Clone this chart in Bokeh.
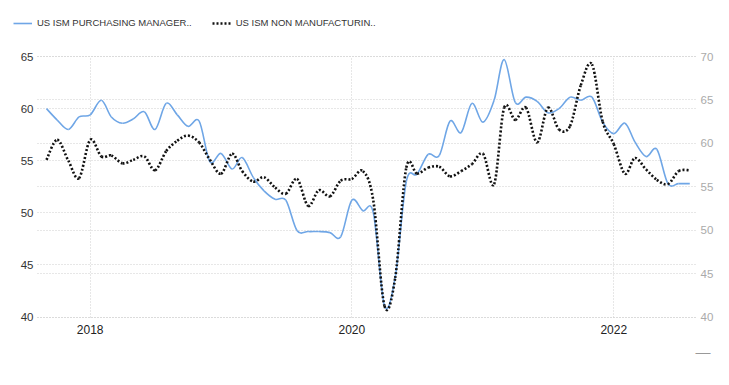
import numpy as np
import pandas as pd
from bokeh.plotting import figure
from bokeh.models import (Range1d, LinearAxis, FixedTicker, Grid, Legend, LegendItem,
                          Label, DatetimeTickFormatter, ColumnDataSource)
from bokeh.embed import file_html
from bokeh.resources import INLINE

# ---- data (monthly, Sep 2017 - Aug 2022) ----
months = pd.date_range("2017-09-01", "2022-08-01", freq="MS")

pmi_manufacturing = [
    60.0, 58.9, 58.0, 59.2,                                                  # 2017 Sep-Dec
    59.4, 60.8, 59.2, 58.6, 59.0, 59.7, 58.0, 60.5, 59.4, 58.3, 58.8, 54.9,  # 2018
    55.7, 54.2, 55.3, 53.4, 52.1, 51.3, 51.2, 48.3, 48.2, 48.2, 48.1, 47.7,  # 2019
    51.2, 50.2, 50.0, 41.1, 43.8, 53.0, 53.7, 55.6, 55.5, 58.8, 57.7, 60.5,  # 2020
    58.7, 60.8, 64.7, 60.6, 61.1, 60.7, 59.6, 60.0, 61.1, 60.8, 61.1, 58.7,  # 2021
    57.6, 58.6, 56.8, 55.4, 56.1, 52.8, 52.8, 52.8,                          # 2022 Jan-Aug
]
pmi_non_manufacturing = [
    58.1, 60.4, 58.0, 56.0,
    60.4, 58.5, 58.6, 57.7, 58.1, 58.5, 56.9, 59.1, 60.3, 60.9, 60.1, 58.1,
    56.5, 58.8, 56.8, 55.6, 56.1, 54.9, 54.2, 55.9, 52.8, 54.6, 53.9, 55.7,
    55.9, 56.8, 53.4, 41.3, 44.5, 57.2, 56.5, 57.2, 57.3, 56.2, 56.8, 57.6,
    58.8, 55.3, 64.1, 62.7, 64.1, 60.1, 64.1, 61.6, 62.0, 66.7, 69.1, 62.5,
    59.9, 56.5, 58.3, 57.0, 55.8, 55.3, 56.8, 56.9,
]
series_names = ["US ISM PURCHASING MANAGER..", "US ISM NON MANUFACTURIN.."]
left_ticks = [40, 45, 50, 55, 60, 65]
right_ticks = [40, 45, 50, 55, 60, 65, 70]
year_ticks = ["2018-01-01", "2020-01-01", "2022-01-01"]

FONT = "Liberation Sans"
BLUE = "#6fa6e6"
BLACK = "#111111"


def ms(d):
    return pd.Timestamp(d).value / 1e6


def spline_source(xs, ys):
    """Cubic Bezier segments (Catmull-Rom control points) through the data points."""
    x = np.asarray(xs, dtype=float)
    y = np.asarray(ys, dtype=float)
    n = len(x)
    xp = np.concatenate([[x[0]], x, [x[-1]]])
    yp = np.concatenate([[y[0]], y, [y[-1]]])
    i = np.arange(n - 1)
    x0, y0 = x[:-1], y[:-1]
    x1, y1 = x[1:], y[1:]
    cx0 = x0 + (xp[i + 2] - xp[i]) / 6.0
    cy0 = y0 + (yp[i + 2] - yp[i]) / 6.0
    cx1 = x1 - (xp[i + 3] - xp[i + 1]) / 6.0
    cy1 = y1 - (yp[i + 3] - yp[i + 1]) / 6.0
    return ColumnDataSource(dict(x0=x0, y0=y0, x1=x1, y1=y1,
                                 cx0=cx0, cy0=cy0, cx1=cx1, cy1=cy1))


# ---- layout geometry (page pixels) ----
W, H = 727, 383
FR_L, FR_R, FR_T, FR_B = 10, 716, 8, 362      # frame (covers legend row and footer)
PLOT_L, PLOT_R, PLOT_T, PLOT_B = 37, 697, 56, 316.5   # visible chart area inside the frame
X_A_PX, X_B_PX = 89.7, 613.3                  # pixel positions of 2018-01-01 / 2022-01-01

xa_ms, xb_ms = ms(year_ticks[0]), ms(year_ticks[2])
px_per_ms = (X_B_PX - X_A_PX) / (xb_ms - xa_ms)
x_start = xa_ms - (X_A_PX - FR_L) / px_per_ms
x_end = xb_ms + (FR_R - X_B_PX) / px_per_ms
x_plot_left = xa_ms - (X_A_PX - PLOT_L) / px_per_ms
x_plot_right = xb_ms + (PLOT_R - X_B_PX) / px_per_ms

lpx = (PLOT_B - PLOT_T) / (left_ticks[-1] - left_ticks[0])
rpx = (PLOT_B - PLOT_T) / (right_ticks[-1] - right_ticks[0])
y_left = Range1d(left_ticks[0] - (FR_B - PLOT_B) / lpx, left_ticks[-1] + (PLOT_T - FR_T) / lpx)
y_right = Range1d(right_ticks[0] - (FR_B - PLOT_B) / rpx, right_ticks[-1] + (PLOT_T - FR_T) / rpx)

xm = np.array([ms(d) for d in months])

p = figure(width=W, height=H, x_axis_type="datetime",
           x_range=Range1d(x_start, x_end), y_range=y_left,
           output_backend="svg", toolbar_location=None,
           min_border_left=FR_L, min_border_right=W - FR_R,
           min_border_top=FR_T, min_border_bottom=H - FR_B)
p.outline_line_color = None
p.background_fill_color = "white"
p.border_fill_color = "white"
p.extra_y_ranges = {"right": y_right}

xa = p.xaxis[0]
xa.ticker = FixedTicker(ticks=[ms(d) for d in year_ticks])
xa.formatter = DatetimeTickFormatter(years="%Y", months="%Y", days="%Y")
xa.axis_line_color = None
xa.major_tick_line_color = None
xa.minor_tick_line_color = None
xa.major_tick_out = 0
xa.major_tick_in = 0
xa.major_label_standoff = -38
xa.major_label_text_font = FONT
xa.major_label_text_font_size = "12px"
xa.major_label_text_color = "#222222"

ya = p.yaxis[0]
ya.ticker = FixedTicker(ticks=left_ticks)
ya.axis_line_color = None
ya.major_tick_line_color = None
ya.minor_tick_line_color = None
ya.major_tick_out = 0
ya.major_tick_in = 0
ya.major_label_standoff = -23
ya.major_label_text_font = FONT
ya.major_label_text_font_size = "11.5px"
ya.major_label_text_color = "#333333"

ra = LinearAxis(y_range_name="right", ticker=FixedTicker(ticks=right_ticks))
ra.axis_line_color = None
ra.major_tick_line_color = None
ra.minor_tick_line_color = None
ra.major_tick_out = 0
ra.major_tick_in = 0
ra.major_label_standoff = int(PLOT_R + 3 - FR_R)
ra.major_label_text_font = FONT
ra.major_label_text_font_size = "11.5px"
ra.major_label_text_color = "#aaaaaa"
p.add_layout(ra, "right")

GRID_COLOR = "#cfcfcf"
p.xgrid.ticker = xa.ticker
p.xgrid.grid_line_color = GRID_COLOR
p.xgrid.grid_line_dash = "1 2"
p.xgrid.cross_bounds = (left_ticks[0], left_ticks[-1])
p.ygrid.ticker = ya.ticker
p.ygrid.grid_line_color = GRID_COLOR
p.ygrid.grid_line_dash = "1 2"
p.ygrid.cross_bounds = (x_plot_left, x_plot_right)
rgrid = Grid(dimension=1, ticker=FixedTicker(ticks=right_ticks), y_range_name="right",
             grid_line_color=GRID_COLOR, grid_line_dash="1 2",
             cross_bounds=(x_plot_left, x_plot_right))
p.add_layout(rgrid)

r_mfg = p.bezier(x0="x0", y0="y0", x1="x1", y1="y1", cx0="cx0", cy0="cy0",
                 cx1="cx1", cy1="cy1", source=spline_source(xm, pmi_manufacturing),
                 line_color=BLUE, line_width=1.6)
r_non = p.bezier(x0="x0", y0="y0", x1="x1", y1="y1", cx0="cx0", cy0="cy0",
                 cx1="cx1", cy1="cy1", source=spline_source(xm, pmi_non_manufacturing),
                 line_color=BLACK, line_width=2.6, line_dash="2 2", y_range_name="right")

legend = Legend(items=[LegendItem(label=series_names[0], renderers=[r_mfg]),
                       LegendItem(label=series_names[1], renderers=[r_non])],
                location=(13 - FR_L, FR_B - 28.7), orientation="horizontal",
                padding=0, margin=0, spacing=20,
                glyph_width=19, glyph_height=12, label_height=12, label_standoff=5,
                label_text_font=FONT, label_text_font_size="9.5px",
                label_text_color="#333333",
                background_fill_alpha=0, border_line_color=None)
p.add_layout(legend)

p.add_layout(Label(x=695 - FR_L, y=FR_B - 351, x_units="screen", y_units="screen", text="—",
                   text_color="#999999", text_font_size="15px",
                   text_baseline="middle", text_font=FONT))

open("out.html", "w").write(file_html(p, INLINE))
